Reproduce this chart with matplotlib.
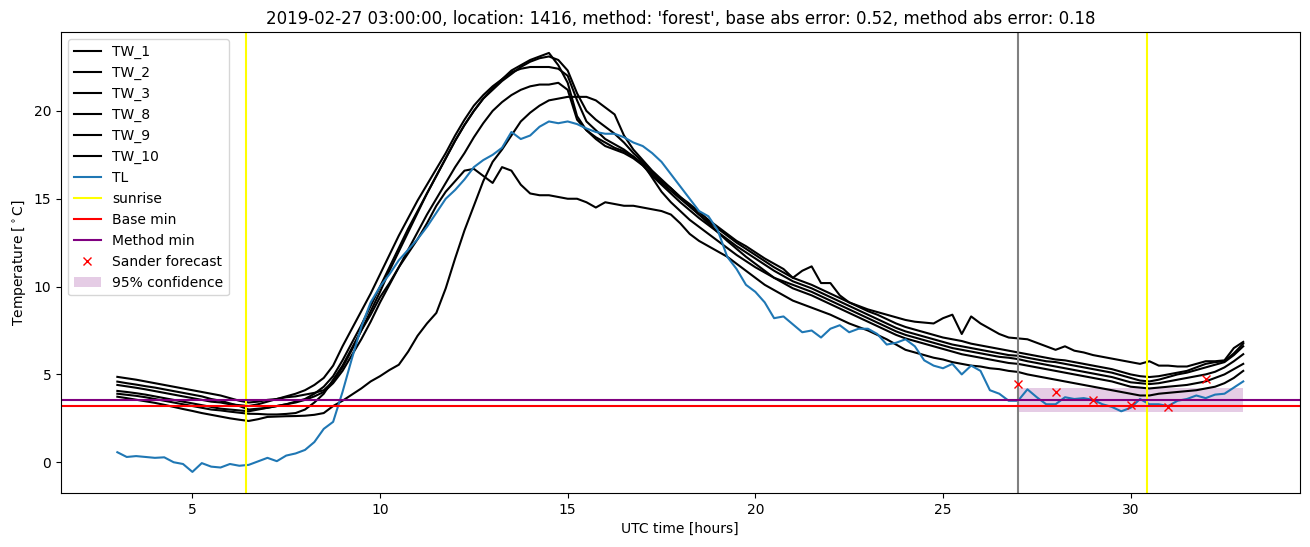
import numpy as np
import matplotlib
matplotlib.use("Agg")
import matplotlib.pyplot as plt

# time axis, 15 min steps from 03:00 to 33:00 (hours since midnight)
hours = np.arange(3.0, 33.01, 0.25)

# road surface temperatures (TW sensors)
tw_1 = [4.4, 4.32, 4.24, 4.15, 4.05, 3.95, 3.85, 3.75, 3.65, 3.55, 3.45, 3.4, 3.3, 3.25, 3.2, 3.3, 3.45, 3.6, 3.75, 3.9, 4.1, 4.4,
        4.8, 5.5, 6.6, 7.6, 8.6, 9.6, 10.7, 11.8, 12.9, 13.9, 14.9, 15.8, 16.7, 17.6, 18.6, 19.5, 20.3, 20.9, 21.4, 21.8, 22.3, 22.6, 22.9, 23.1,
        23.3, 22.6, 21.6, 19.7, 18.9, 18.4, 18.0, 17.8, 17.6, 17.3,
        16.9, 16.4, 15.9, 15.45, 15.0, 14.55, 14.1, 13.7, 13.3, 12.9, 12.5, 12.15, 11.8, 11.45, 11.1, 10.8,
        10.5, 10.3, 10.1, 9.85, 9.6, 9.35, 9.1, 8.85, 8.6, 8.4, 8.15, 7.9, 7.7, 7.55, 7.4, 7.25, 7.1, 7.0, 6.9, 6.75, 6.65, 6.55, 6.45, 6.35,
        6.25, 6.15, 6.05, 5.95, 5.85, 5.8, 5.7, 5.6, 5.5, 5.4, 5.3, 5.15, 5.0, 4.9, 4.85, 4.9, 5.0, 5.1, 5.2, 5.4, 5.6, 5.7, 5.75, 6.2, 6.75]
tw_2 = [4.06, 4.0, 3.93, 3.85, 3.75, 3.65, 3.55, 3.45, 3.35, 3.25, 3.15, 3.05, 3.0, 2.95, 2.9, 3.0, 3.1, 3.2, 3.3, 3.45, 3.6, 3.9,
        4.3, 4.9, 5.8, 6.8, 7.8, 8.9, 10.0, 11.1, 12.2, 13.3, 14.3, 15.3, 16.3, 17.3, 18.3, 19.2, 20.0, 20.7, 21.2, 21.7, 22.1, 22.5, 22.8, 23.0,
        23.1, 22.9, 22.3, 21.0, 20.0, 19.5, 19.1, 18.7, 18.2, 17.6,
        17.1, 16.5, 16.0, 15.6, 15.1, 14.7, 14.25, 13.8, 13.4, 13.0, 12.6, 12.3, 11.95, 11.6, 11.3, 11.0,
        10.5, 10.9, 11.15, 10.2, 10.2, 9.5, 9.1, 8.9, 8.7, 8.55, 8.4, 8.25, 8.1, 8.0, 7.95, 7.9, 8.2, 8.4, 7.3, 8.3, 7.9, 7.6, 7.3, 7.1,
        7.05, 7.0, 6.8, 6.6, 6.4, 6.6, 6.35, 6.25, 6.1, 6.0, 5.9, 5.8, 5.7, 5.6, 5.75, 5.5, 5.5, 5.45, 5.45, 5.6, 5.75, 5.75, 5.8, 6.5, 6.85]
tw_3 = [4.86, 4.78, 4.7, 4.6, 4.5, 4.4, 4.3, 4.2, 4.1, 4.0, 3.9, 3.8, 3.65, 3.5, 3.4, 3.45, 3.55, 3.6, 3.7, 3.75, 3.85, 3.95,
        4.1, 4.6, 5.4, 6.4, 7.5, 8.6, 9.7, 10.9, 12.0, 13.1, 14.2, 15.3, 16.3, 17.3, 18.3, 19.2, 20.0, 20.7, 21.3, 21.8, 22.2, 22.4, 22.5, 22.5,
        22.5, 22.4, 22.0, 20.6, 19.4, 18.9, 18.4, 18.1, 17.8, 17.4,
        16.9, 16.3, 15.8, 15.3, 14.8, 14.35, 13.9, 13.5, 13.1, 12.7, 12.3, 11.95, 11.6, 11.25, 10.9, 10.6,
        10.3, 10.1, 9.9, 9.65, 9.4, 9.15, 8.9, 8.65, 8.4, 8.15, 7.9, 7.65, 7.45, 7.3, 7.15, 7.0, 6.85, 6.7, 6.6, 6.5, 6.4, 6.3, 6.2, 6.1,
        6.06, 5.95, 5.85, 5.75, 5.7, 5.6, 5.5, 5.4, 5.3, 5.2, 5.1, 4.95, 4.8, 4.65, 4.6, 4.7, 4.85, 5.0, 5.1, 5.25, 5.4, 5.55, 5.7, 6.1, 6.6]
tw_8 = [4.59, 4.5, 4.42, 4.33, 4.25, 4.15, 4.05, 3.95, 3.85, 3.75, 3.6, 3.5, 3.35, 3.2, 3.0, 3.05, 3.1, 3.2, 3.3, 3.4, 3.55, 3.75,
        4.0, 4.5, 5.2, 6.1, 7.0, 8.0, 9.1, 10.1, 11.1, 12.1, 13.1, 14.1, 15.0, 15.9, 16.8, 17.6, 18.5, 19.3, 20.0, 20.5, 20.9, 21.2, 21.4, 21.5,
        21.5, 21.6, 21.2, 19.5, 18.9, 18.5, 18.2, 17.9, 17.7, 17.4,
        17.0, 16.2, 15.4, 14.8, 14.3, 13.8, 13.4, 13.0, 12.6, 12.2, 11.8, 11.45, 11.1, 10.8, 10.5, 10.3,
        10.1, 9.9, 9.7, 9.45, 9.2, 8.95, 8.7, 8.45, 8.2, 7.95, 7.7, 7.45, 7.25, 7.1, 6.95, 6.8, 6.65, 6.5, 6.4, 6.3, 6.2, 6.1, 6.0, 5.95,
        5.87, 5.75, 5.65, 5.55, 5.45, 5.35, 5.25, 5.15, 5.05, 4.95, 4.85, 4.7, 4.55, 4.5, 4.45, 4.5, 4.6, 4.7, 4.8, 4.9, 5.0, 5.15, 5.4, 5.75, 6.15]
tw_9 = [3.73, 3.65, 3.56, 3.47, 3.38, 3.27, 3.15, 3.03, 2.92, 2.8, 2.7, 2.6, 2.5, 2.42, 2.35, 2.45, 2.58, 2.6, 2.62, 2.63, 2.65, 2.7,
        2.8, 3.2, 3.5, 3.85, 4.2, 4.6, 4.9, 5.25, 5.55, 6.3, 7.2, 7.9, 8.5, 9.9, 11.6, 13.2, 14.6, 16.0, 17.1, 17.8, 18.6, 19.4, 19.9, 20.3,
        20.6, 20.7, 20.8, 20.8, 20.8, 20.6, 20.2, 19.8, 18.6, 17.8,
        17.2, 16.6, 16.1, 15.6, 15.1, 14.6, 14.1, 13.6, 13.1, 12.6, 12.15, 11.7, 11.3, 10.9, 10.5, 10.2,
        9.9, 9.7, 9.5, 9.25, 9.0, 8.75, 8.5, 8.25, 8.0, 7.75, 7.5, 7.25, 7.05, 6.9, 6.75, 6.6, 6.45, 6.3, 6.15, 6.05, 5.95, 5.85, 5.75, 5.65,
        5.6, 5.5, 5.4, 5.3, 5.2, 5.1, 5.0, 4.9, 4.8, 4.7, 4.6, 4.45, 4.3, 4.25, 4.2, 4.25, 4.3, 4.35, 4.4, 4.5, 4.6, 4.8, 5.0, 5.3, 5.6]
tw_10 = [3.9, 3.84, 3.78, 3.7, 3.6, 3.5, 3.4, 3.3, 3.2, 3.1, 3.0, 2.95, 2.88, 2.82, 2.76, 2.75, 2.72, 2.72, 2.75, 2.8, 3.0, 3.4,
         3.9, 4.7, 5.5, 6.5, 7.5, 8.4, 9.4, 10.2, 11.1, 11.9, 12.7, 13.6, 14.6, 15.4, 16.0, 16.6, 16.7, 16.3, 15.9, 16.8, 16.6, 15.8, 15.3, 15.2,
         15.2, 15.1, 15.0, 15.0, 14.8, 14.5, 14.8, 14.7, 14.6, 14.6,
         14.5, 14.4, 14.3, 14.1, 13.6, 13.0, 12.6, 12.3, 12.0, 11.7, 11.3, 10.9, 10.5, 10.1, 9.8, 9.5,
         9.2, 9.0, 8.8, 8.6, 8.4, 8.15, 7.9, 7.7, 7.5, 7.25, 7.0, 6.7, 6.4, 6.25, 6.1, 5.95, 5.85, 5.7, 5.6, 5.5, 5.45, 5.35, 5.3, 5.2,
         5.14, 5.0, 4.9, 4.8, 4.7, 4.6, 4.5, 4.4, 4.3, 4.2, 4.1, 4.0, 3.9, 3.8, 3.8, 3.9, 3.95, 4.0, 4.05, 4.1, 4.2, 4.3, 4.5, 4.8, 5.2]

# air temperature
tl = [0.57, 0.3, 0.35, 0.3, 0.25, 0.28, 0.0, -0.1, -0.55, -0.05, -0.25, -0.3, -0.1, -0.2, -0.15, 0.05, 0.25, 0.06, 0.38, 0.5, 0.7, 1.15,
      1.9, 2.3, 4.0, 5.9, 7.7, 9.1, 10.0, 10.7, 11.5, 12.1, 12.7, 13.4, 14.2, 15.0, 15.5, 16.1, 16.8, 17.2, 17.5, 17.9, 18.8, 18.4, 18.6, 19.1,
      19.4, 19.3, 19.4, 19.25, 19.0, 18.8, 18.7, 18.7, 18.5, 18.2,
      18.0, 17.6, 17.1, 16.4, 15.7, 15.0, 14.3, 14.0, 13.2, 11.7, 11.0, 10.1, 9.7, 9.1, 8.2, 8.3,
      7.85, 7.4, 7.5, 7.1, 7.6, 7.8, 7.4, 7.6, 7.6, 7.3, 6.7, 6.8, 7.0, 6.6, 5.8, 5.5, 5.35, 5.6, 5.0, 5.5, 5.2, 4.1, 3.9, 3.5,
      3.5, 4.15, 3.7, 3.3, 3.3, 3.7, 3.6, 3.65, 3.55, 3.3, 3.15, 2.9, 3.1, 3.6, 3.3, 3.3, 3.2, 3.5, 3.6, 3.8, 3.65, 3.85, 3.9, 4.25, 4.6]

tw_names = ['TW_1', 'TW_2', 'TW_3', 'TW_8', 'TW_9', 'TW_10']
tw_data = [tw_1, tw_2, tw_3, tw_8, tw_9, tw_10]

sunrise = [6.44, 30.43]
forecast_start = 27.0
base_min = 3.2
method_min = 3.52
sander_hours = [27, 28, 29, 30, 31, 32]
sander_temp = [4.44, 4.0, 3.54, 3.26, 3.16, 4.76]
conf_hours = [27, 33]
conf_low = 2.87
conf_high = 4.21

fig = plt.figure(figsize=(13.1, 5.47), dpi=100)
ax = fig.add_subplot(111)
fig.subplots_adjust(left=0.0466, right=0.992, bottom=0.099, top=0.9415)

for name, vals in zip(tw_names, tw_data):
    ax.plot(hours, vals, color='black', label=name)
ax.plot(hours, tl, color='tab:blue', label='TL')
ax.axvline(sunrise[0], color='yellow', label='sunrise')
ax.axvline(sunrise[1], color='yellow')
ax.axvline(forecast_start, color='grey')
ax.axhline(base_min, color='red', label='Base min')
ax.axhline(method_min, color='purple', label='Method min')
ax.plot(sander_hours, sander_temp, 'x', color='red', label='Sander forecast')
ax.fill_between(conf_hours, conf_low, conf_high, color='purple', alpha=0.2,
                linewidth=0, label='95% confidence')

ax.set_title("2019-02-27 03:00:00, location: 1416, method: 'forest', "
             "base abs error: 0.52, method abs error: 0.18")
ax.set_xlabel('UTC time [hours]')
ax.set_ylabel(r'Temperature [$^\circ$C]')
ax.legend(loc='upper left')

plt.savefig('out.png')
